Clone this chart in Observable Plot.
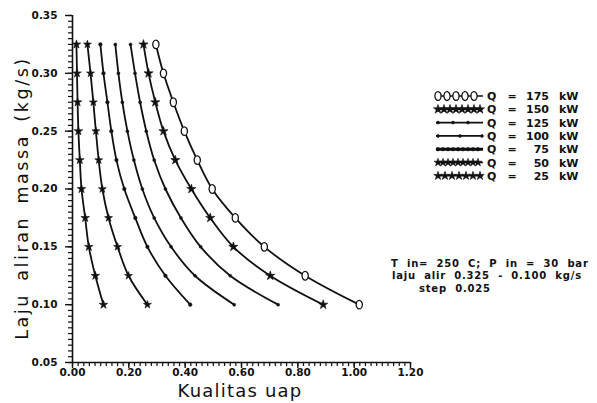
<!DOCTYPE html>
<html><head><meta charset="utf-8">
<script src="https://cdn.jsdelivr.net/npm/d3@7"></script>
<script src="https://cdn.jsdelivr.net/npm/@observablehq/plot@0.6"></script>
<style>
body{margin:0;background:#fff;}
#chart{position:relative;width:597px;height:403px;}
</style>
</head><body><div id="chart"></div>
<script>
// Mass flow rates (kg/s) — y values of each curve
const massFlow = [0.325, 0.300, 0.275, 0.250, 0.225, 0.200, 0.175, 0.150, 0.125, 0.100];
// Vapour quality (x values) for each heat input Q
const q25  = [0.014, 0.016, 0.018, 0.021, 0.026, 0.032, 0.045, 0.058, 0.081, 0.110];
const q50  = [0.053, 0.064, 0.074, 0.083, 0.093, 0.106, 0.128, 0.160, 0.199, 0.266];
const q75  = [0.099, 0.110, 0.124, 0.138, 0.156, 0.184, 0.223, 0.266, 0.330, 0.418];
const q100 = [0.152, 0.163, 0.177, 0.195, 0.218, 0.248, 0.290, 0.350, 0.435, 0.574];
const q125 = [0.206, 0.222, 0.240, 0.262, 0.290, 0.330, 0.385, 0.455, 0.560, 0.730];
const q150 = [0.252, 0.270, 0.294, 0.323, 0.365, 0.422, 0.489, 0.571, 0.702, 0.890];
const q175 = [0.296, 0.323, 0.358, 0.397, 0.443, 0.496, 0.578, 0.681, 0.826, 1.018];
const powers = [175, 150, 125, 100, 75, 50, 25];
const legendLabels = ["175", "150", "125", "100", "75", "50", "25"];
const xTicks = [0.0, 0.2, 0.4, 0.6, 0.8, 1.0, 1.2];
const yTicks = [0.05, 0.10, 0.15, 0.20, 0.25, 0.30, 0.35];
const xLabel = "Kualitas uap";
const yLabel = "Laju aliran massa (kg/s)";
const noteLines = ["T in= 250 C; P in = 30 bar", "laju alir 0.325 - 0.100 kg/s", "step 0.025"];

const ellipseSym = {draw(ctx, size){
  const r = Math.sqrt(size/Math.PI), rx = r*0.72, ry = r, k = 0.5523;
  ctx.moveTo(0,-ry);
  ctx.bezierCurveTo(k*rx,-ry, rx,-k*ry, rx,0);
  ctx.bezierCurveTo(rx,k*ry, k*rx,ry, 0,ry);
  ctx.bezierCurveTo(-k*rx,ry, -rx,k*ry, -rx,0);
  ctx.bezierCurveTo(-rx,-k*ry, -k*rx,-ry, 0,-ry);
  ctx.closePath();
}};

const seriesArrays = [q175, q150, q125, q100, q75, q50, q25];
const styles = [
  {symbol: ellipseSym, r: 4.3, fill: "white", stroke: "#111", sw: 1.3, gap: 9},
  {symbol: d3.symbolStar, r: 2.9, fill: "#111", stroke: "#111", sw: 0.6, gap: 6},
  {symbol: d3.symbolCircle, r: 1.5, fill: "#111", stroke: "#111", sw: 0.5, gap: 15},
  {symbol: d3.symbolCircle, r: 1.5, fill: "#111", stroke: "#111", sw: 0.5, gap: 22},
  {symbol: d3.symbolCircle, r: 1.8, fill: "#111", stroke: "#111", sw: 0.5, gap: 5},
  {symbol: d3.symbolStar, r: 2.5, fill: "#111", stroke: "#111", sw: 0.6, gap: 5},
  {symbol: d3.symbolStar, r: 2.7, fill: "#111", stroke: "#111", sw: 0.6, gap: 7},
];

const rows = [];
powers.forEach((p, i) => seriesArrays[i].forEach((x, j) => rows.push({power: p, quality: x, flow: massFlow[j]})));

const xMinor = d3.range(0, 1.2001, 0.02);
const yMinor = d3.range(0.05, 0.35001, 0.005);

const marks = [
  Plot.axisX({ticks: xMinor, tickSize: 4, tickFormat: () => "", label: null, strokeWidth: 1.2}),
  Plot.axisX({ticks: xTicks, tickSize: 6, tickPadding: 0, tickFormat: d3.format(".2f"), label: null, strokeWidth: 1.4}),
  Plot.axisY({ticks: yMinor, tickSize: 4, tickFormat: () => "", label: null, strokeWidth: 1.2}),
  Plot.axisY({ticks: yTicks, tickSize: 7, tickPadding: 8, tickFormat: d3.format(".2f"), label: null, strokeWidth: 1.4}),
  Plot.ruleY([0.05], {stroke: "#111", strokeWidth: 1.6}),
  Plot.ruleX([0], {stroke: "#111", strokeWidth: 1.6}),
];
powers.forEach((p, i) => {
  const data = rows.filter(d => d.power === p);
  const s = styles[i];
  marks.push(Plot.line(data, {x: "quality", y: "flow", curve: "catmull-rom", stroke: "#111", strokeWidth: 1.8}));
  marks.push(Plot.dot(data, {x: "quality", y: "flow", symbol: s.symbol, r: s.r, fill: s.fill, stroke: s.stroke, strokeWidth: s.sw}));
});

const chart = Plot.plot({
  width: 597, height: 403,
  marginLeft: 72, marginRight: 187, marginTop: 15, marginBottom: 41,
  x: {domain: [0, 1.2], label: null},
  y: {domain: [0.05, 0.35], label: null},
  style: {fontFamily: "DejaVu Sans", fontSize: "10.5px", fontWeight: "bold", color: "#111", background: "white"},
  marks
});
document.getElementById("chart").appendChild(chart);

// Axis titles, legend and note, added as real text on the same SVG
const svg = d3.select(chart);
svg.append("text").text(xLabel)
  .attr("x", 240).attr("y", 397).attr("text-anchor", "middle").attr("font-weight", "normal")
  .attr("font-family", "DejaVu Sans").attr("font-size", 18).attr("letter-spacing", 1.2).attr("fill", "#111");
svg.append("text").text(yLabel)
  .attr("transform", "translate(28,198) rotate(-90)").attr("text-anchor", "middle").attr("font-weight", "normal")
  .attr("font-family", "DejaVu Sans").attr("font-size", 17.5).attr("letter-spacing", 2.6).attr("word-spacing", 4).attr("fill", "#111");

const lg = svg.append("g").attr("font-family", "DejaVu Sans").attr("font-weight", "bold").attr("font-size", 11).attr("fill", "#111").attr("text-anchor", "start");
powers.forEach((p, i) => {
  const y = 96 + i * 13.3;
  const s = styles[i];
  lg.append("line").attr("x1", 436).attr("x2", 483).attr("y1", y).attr("y2", y).attr("stroke", "#111").attr("stroke-width", i === 4 ? 3 : 1.6);
  for (let x = 438; x <= 482; x += s.gap) {
    lg.append("path").attr("d", d3.symbol(s.symbol, Math.PI * s.r * s.r)())
      .attr("transform", `translate(${x},${y})`).attr("fill", s.fill).attr("stroke", s.stroke).attr("stroke-width", s.sw);
  }
  lg.append("text").text("Q").attr("x", 487).attr("y", y + 4);
  lg.append("text").text("=").attr("x", 512).attr("y", y + 4).attr("text-anchor", "middle");
  lg.append("text").text(legendLabels[i]).attr("x", 549).attr("y", y + 4).attr("text-anchor", "end");
  lg.append("text").text("kW").attr("x", 559).attr("y", y + 4);
});

const nt = svg.append("g").attr("font-family", "DejaVu Sans").attr("font-weight", "bold").attr("font-size", 10).attr("fill", "#111")
  .attr("text-anchor", "start").attr("letter-spacing", 0.8).attr("word-spacing", 4);
nt.append("text").text(noteLines[0]).attr("x", 391).attr("y", 267);
nt.append("text").text(noteLines[1]).attr("x", 392).attr("y", 279);
nt.append("text").text(noteLines[2]).attr("x", 419).attr("y", 292);
</script>
</body></html>
